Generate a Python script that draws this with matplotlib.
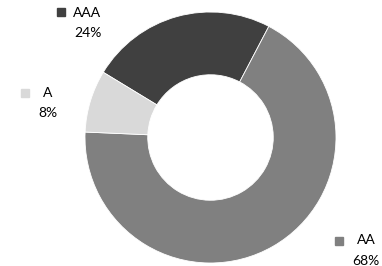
import matplotlib
matplotlib.use("Agg")
import matplotlib.pyplot as plt
from matplotlib.patches import Rectangle

categories = ["AAA", "AA", "A"]
values = [24, 68, 8]
pct_labels = ["24%", "68%", "8%"]
colors = ["#404040", "#808080", "#d9d9d9"]

W, H = 382, 266
fig = plt.figure(figsize=(W / 100, H / 100), dpi=100)
plt.rcParams['font.family'] = ['Lato', 'DejaVu Sans']

cx, cy, r = 210.5, 137.5, 125.5
ax = fig.add_axes([(cx - r) / W, (H - cy - r) / H, 2 * r / W, 2 * r / H])
ax.pie(values, colors=colors, startangle=148.7, counterclock=False,
       radius=1.0, wedgeprops=dict(width=0.5, edgecolor="white", linewidth=0.6))
ax.set_xlim(-1, 1)
ax.set_ylim(-1, 1)
ax.set_aspect("equal")
ax.axis("off")

# label positions (pixels): marker box left/top, text center x, line1 y, line2 y
label_pos = {
    "AAA": (57, 8, 87.5, 13, 33),
    "A": (21, 89, 48, 93, 113),
    "AA": (335, 237, 366, 240, 261),
}

def fx(x):
    return x / W

def fy(y):
    return 1 - y / H

for cat, pct, col in zip(categories, pct_labels, colors):
    mx, my, tx, y1, y2 = label_pos[cat]
    fig.patches.append(Rectangle((fx(mx), fy(my + 8)), 8 / W, 8 / H,
                                 transform=fig.transFigure, color=col, figure=fig))
    fig.text(fx(tx), fy(y1), cat, ha="center", va="center", fontsize=10, color="#000000")
    fig.text(fx(tx), fy(y2), pct, ha="center", va="center", fontsize=10, color="#000000")

fig.savefig("out.png", dpi=100)
